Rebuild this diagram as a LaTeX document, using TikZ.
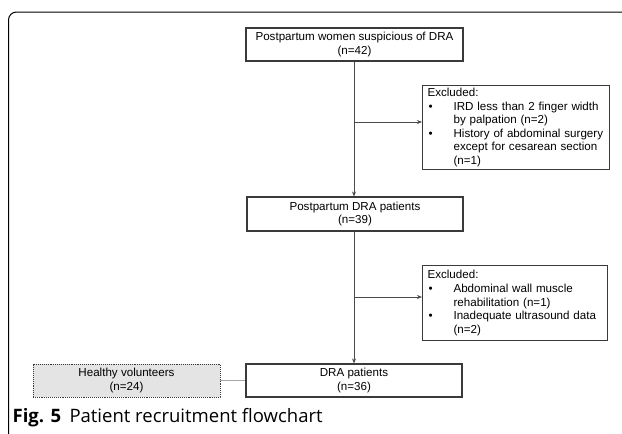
\documentclass[tikz,border=0pt]{standalone}
\usepackage{fontspec}
\setmainfont{Liberation Sans}
\newfontfamily\capfont{Open Sans}
\usetikzlibrary{arrows.meta}
\definecolor{boxline}{HTML}{3A3A3A}
\definecolor{linkgray}{HTML}{4A4A4A}
\definecolor{hfill}{HTML}{E4E4E4}
\tikzset{
  flowbox/.style={draw=boxline, line width=1.1pt, rectangle, align=center, inner sep=0pt,
    font=\fontsize{11.6}{13.5}\selectfont},
  exbox/.style={draw=boxline, line width=1.1pt, rectangle, align=left, inner xsep=5pt, inner ysep=0pt,
    anchor=north west, font=\fontsize{11.6}{13.6}\selectfont},
  healthbox/.style={flowbox, fill=hfill, draw=boxline, densely dotted, line width=0.9pt},
  flowarrow/.style={draw=linkgray, line width=0.7pt, -{Stealth[length=5pt,width=4pt]}},
}
\newcommand{\bul}{\makebox[26pt][l]{\hspace{1pt}•}}
\newcommand{\ind}{\hspace*{26pt}}
\begin{document}
\begin{tikzpicture}[x=1pt,y=-1pt]
\useasboundingbox (0,0) rectangle (622,434);
% frame
\draw[line width=1pt, rounded corners=8pt] (624,12) -- (8.5,12) -- (8.5,436);
% main boxes
\node[flowbox, minimum width=217pt, minimum height=33pt] (b1) at (354.5,44.5)
  {Postpartum women suspicious of DRA\\(n=42)};
\node[flowbox, minimum width=216pt, minimum height=34pt] (b2) at (355,214)
  {Postpartum DRA patients\\(n=39)};
\node[flowbox, minimum width=216pt, minimum height=33pt] (b3) at (354,380.5)
  {DRA patients\\(n=36)};
\node[healthbox, minimum width=187pt, minimum height=33pt] (hv) at (126.5,380.5)
  {Healthy volunteers\\(n=24)};
% exclusion boxes
\node[exbox, text width=177pt, minimum height=84pt] (e1) at (422,85)
  {Excluded:\\
   \bul IRD less than 2 finger width\\
   \ind by palpation (n=2)\\
   \bul History of abdominal surgery\\
   \ind except for cesarean section\\
   \ind (n=1)};
\node[exbox, text width=175pt, minimum height=75pt] (e2) at (422,265)
  {Excluded:\\
   \bul Abdominal wall muscle\\
   \ind rehabilitation (n=1)\\
   \bul Inadequate ultrasound data\\
   \ind (n=2)};
% connectors
\coordinate (j1) at (354,122);
\coordinate (j2) at (354,297);
\draw[flowarrow] (b1.south -| j1) -- (b2.north -| j1);
\draw[flowarrow] (b2.south -| j2) -- (b3.north -| j2);
\draw[flowarrow] (j1) -- (j1 -| e1.west);
\draw[flowarrow] (j2) -- (j2 -| e2.west);
\draw[draw=gray!70, line width=0.9pt] (hv.east) -- (b3.west);
% caption
\node[anchor=base west, inner sep=0pt, font=\capfont\fontsize{18.5}{22}\selectfont] (cap) at (12.5,422)
  {\textbf{Fig. 5}\hspace{0.45em}Patient recruitment flowchart};
\end{tikzpicture}
\end{document}
